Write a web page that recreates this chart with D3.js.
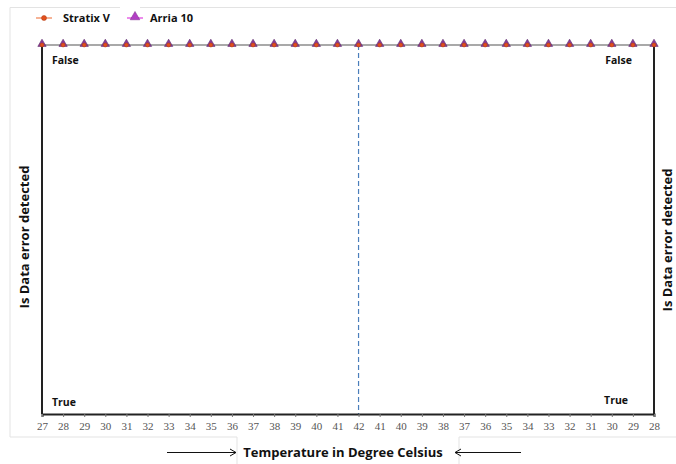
<!DOCTYPE html>
<html><head><meta charset="utf-8">
<script src="https://cdn.jsdelivr.net/npm/d3@7"></script>
<style>html,body{margin:0;padding:0;background:#fff;overflow:hidden}</style>
</head><body>
<svg id="c" width="676" height="464"></svg>
<script>
const temps = [27,28,29,30,31,32,33,34,35,36,37,38,39,40,41,42,41,40,39,38,37,36,35,34,33,32,31,30,29,28];
const stratixV = ["False","False","False","False","False","False","False","False","False","False","False","False","False","False","False","False","False","False","False","False","False","False","False","False","False","False","False","False","False","False"];
const arria10 = ["False","False","False","False","False","False","False","False","False","False","False","False","False","False","False","False","False","False","False","False","False","False","False","False","False","False","False","False","False","False"];
const yCats = ["False","True"];
const markerIndex = 15;

const svg = d3.select("#c");
const L = 42, R = 654, T = 45, B = 414;
const idx = d3.range(temps.length);
const x = d3.scaleLinear().domain([0, temps.length - 1]).range([L, R]);
const y = d3.scalePoint().domain(yCats).range([T, B]);
const bold = "'Open Sans', 'DejaVu Sans', sans-serif";

// faint frame
const fr = svg.append("g").attr("stroke", "#e3e3e3").attr("fill", "none");
fr.append("path").attr("d", "M10,437 V7.5 H120 M140,7.5 H676");
fr.append("path").attr("d", "M10,437 H237 V464 M459,464 V437 H676");

// dashed vertical line
svg.append("line").attr("x1", x(markerIndex)).attr("x2", x(markerIndex))
  .attr("y1", T).attr("y2", B).attr("stroke", "#4a7ebb").attr("stroke-width", 1.2)
  .attr("stroke-dasharray", "5,3");

// axes
const xAxis = d3.axisBottom(x).tickValues(idx).tickFormat(i => temps[i]).tickSize(3).tickPadding(5);
const gx = svg.append("g").attr("transform", `translate(0,${B})`).call(xAxis);
gx.select(".domain").attr("stroke", "#222").attr("stroke-width", 2);
gx.selectAll(".tick line").attr("stroke", "#777");
gx.selectAll("text").attr("font-family", "'Liberation Serif', serif").attr("font-size", 11).attr("fill", "#555");

svg.append("line").attr("x1", L).attr("x2", L).attr("y1", T).attr("y2", B).attr("stroke", "#222").attr("stroke-width", 2);
svg.append("line").attr("x1", R).attr("x2", R).attr("y1", T).attr("y2", B).attr("stroke", "#222").attr("stroke-width", 2);

// y category labels
const lab = (t, xx, yy, anchor) => svg.append("text").attr("x", xx).attr("y", yy).attr("text-anchor", anchor)
  .attr("font-family", bold).attr("font-weight", "bold").attr("font-size", 10.5).attr("fill", "#111").text(t);
lab(yCats[0], L + 10, y("False") + 19, "start");
lab(yCats[0], R - 22, y("False") + 19, "end");
lab(yCats[1], L + 10, y("True") - 8, "start");
lab(yCats[1], R - 26, y("True") - 10, "end");

// series line
const line = d3.line().x((d, i) => x(i)).y(d => y(d));
svg.append("path").datum(arria10).attr("d", line).attr("fill", "none").attr("stroke", "#555").attr("stroke-width", 1.2);

// markers
const tri = d3.symbol().type(d3.symbolTriangle).size(30);
svg.append("g").selectAll("path").data(arria10).join("path")
  .attr("d", tri).attr("transform", (d, i) => `translate(${x(i)},${y(d) - 1})`)
  .attr("fill", "#8a3a96").attr("stroke", "#5a2a6a").attr("stroke-width", 0.6);
svg.append("g").selectAll("circle").data(stratixV).join("circle")
  .attr("cx", (d, i) => x(i)).attr("cy", d => y(d)).attr("r", 2)
  .attr("fill", "#e2501d").attr("stroke", "#b03a10").attr("stroke-width", 0.5);

// legend
const lg = svg.append("g");
lg.append("line").attr("x1", 36).attr("x2", 52).attr("y1", 18).attr("y2", 18).attr("stroke", "#f08050").attr("stroke-width", 1.2);
lg.append("circle").attr("cx", 44).attr("cy", 18).attr("r", 2.5).attr("fill", "#e2501d").attr("stroke", "#b03a10").attr("stroke-width", 0.5);
lg.append("text").attr("x", 63).attr("y", 22).attr("font-family", bold).attr("font-weight", "bold").attr("font-size", 11).attr("fill", "#111").text("Stratix V");
lg.append("line").attr("x1", 127).attr("x2", 143).attr("y1", 18).attr("y2", 18).attr("stroke", "#e040e0").attr("stroke-width", 1.2);
lg.append("path").attr("d", d3.symbol().type(d3.symbolTriangle).size(40)).attr("transform", "translate(135,17)").attr("fill", "#b23fc4").attr("stroke", "#7a2a8a").attr("stroke-width", 0.5);
lg.append("text").attr("x", 150).attr("y", 22).attr("font-family", bold).attr("font-weight", "bold").attr("font-size", 11).attr("fill", "#111").text("Arria 10");

// y titles
const yt = (xx, yy) => svg.append("text").attr("transform", `translate(${xx},${yy}) rotate(-90)`).attr("text-anchor", "middle")
  .attr("font-family", bold).attr("font-weight", "bold").attr("font-size", 13).attr("fill", "#111").text("Is Data error detected");
yt(29, 237);
yt(672, 240);

// x title with arrows
svg.append("text").attr("x", 343).attr("y", 457).attr("text-anchor", "middle")
  .attr("font-family", bold).attr("font-weight", "bold").attr("font-size", 13).attr("fill", "#111").text("Temperature in Degree Celsius");
const ar = svg.append("g").attr("stroke", "#111").attr("fill", "none").attr("stroke-width", 1);
ar.append("path").attr("d", "M167,452.5 H236 M230,449 L236,452.5 L230,456");
ar.append("path").attr("d", "M455,452.5 H521 M461,449 L455,452.5 L461,456");
</script>
</body></html>
